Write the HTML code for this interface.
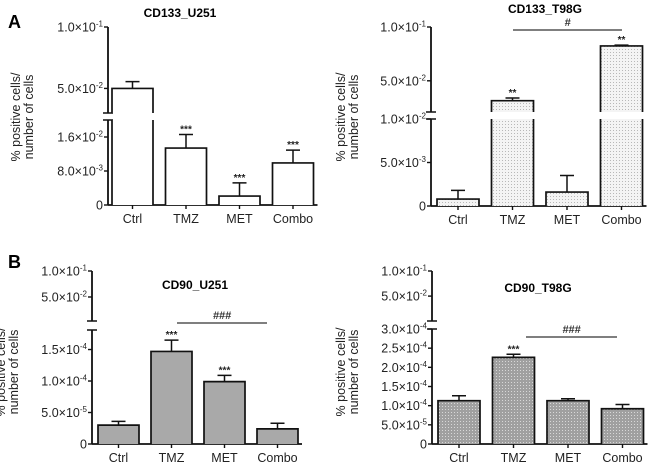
<!DOCTYPE html>
<html><head><meta charset="utf-8">
<style>
html,body{margin:0;padding:0;background:#fff;}
svg{display:block;font-family:"Liberation Sans",Arial,sans-serif;}
</style></head>
<body>
<svg id="fig" width="650" height="464" viewBox="0 0 650 464" xmlns="http://www.w3.org/2000/svg">
<defs>
<pattern id="dotsLight" width="3" height="3" patternUnits="userSpaceOnUse"><rect width="3" height="3" fill="#f4f4f4"/><rect x="1" y="1" width="1" height="1" fill="#b8b8b8"/></pattern>
<pattern id="dotsDark" width="3" height="3" patternUnits="userSpaceOnUse"><rect width="3" height="3" fill="#a0a0a0"/><rect x="1" y="1" width="1" height="1" fill="#d8d8d8"/></pattern>
</defs>
<text x="8" y="28" font-size="18" font-weight="bold">A</text>
<text x="8" y="268" font-size="18" font-weight="bold">B</text>
</svg>
<script>
// shared categories
const categories = ["Ctrl", "TMZ", "MET", "Combo"];
// CD133_U251
const a1Values = [0.050, 0.0134, 0.0021, 0.0099];
const a1Errors = [0.0055, 0.0032, 0.0031, 0.0030];
const a1Stars = ["", "***", "***", "***"];
const a1TickValues = [0, 0.008, 0.016, 0.05, 0.1];
const a1TickLabels = ["0", "8.0x10^-3", "1.6x10^-2", "5.0x10^-2", "1.0x10^-1"];
// CD133_T98G
const a2Values = [0.0008, 0.0315, 0.0016, 0.0824];
const a2Errors = [0.0010, 0.0025, 0.0019, 0.0008];
const a2Stars = ["", "**", "", "**"];
const a2TickValues = [0, 0.005, 0.01, 0.05, 0.1];
const a2TickLabels = ["0", "5.0x10^-3", "1.0x10^-2", "5.0x10^-2", "1.0x10^-1"];
// CD90_U251
const b1Values = [3.0e-5, 1.47e-4, 0.99e-4, 2.4e-5];
const b1Errors = [0.6e-5, 1.8e-5, 1.0e-5, 0.9e-5];
const b1Stars = ["", "***", "***", ""];
const b1TickValues = [0, 5e-5, 1e-4, 1.5e-4, 0.05, 0.1];
const b1TickLabels = ["0", "5.0x10^-5", "1.0x10^-4", "1.5x10^-4", "5.0x10^-2", "1.0x10^-1"];
// CD90_T98G
const b2Values = [1.13e-4, 2.26e-4, 1.13e-4, 0.92e-4];
const b2Errors = [1.3e-5, 0.8e-5, 0.5e-5, 1.1e-5];
const b2Stars = ["", "***", "", ""];
const b2TickValues = [0, 5e-5, 1e-4, 1.5e-4, 2e-4, 2.5e-4, 3e-4, 0.05, 0.1];
const b2TickLabels = ["0", "5.0x10^-5", "1.0x10^-4", "1.5x10^-4", "2.0x10^-4", "2.5x10^-4", "3.0x10^-4", "5.0x10^-2", "1.0x10^-1"];

const NS = "http://www.w3.org/2000/svg";
const svg = document.getElementById("fig");
function mk(tag, attrs, parent) {
  const e = document.createElementNS(NS, tag);
  for (const k in attrs) e.setAttribute(k, attrs[k]);
  (parent || svg).appendChild(e);
  return e;
}
function makeScale(segs) {
  return function (v) {
    for (const s of segs) {
      if (v >= s.v0 && v <= s.v1 + 1e-12) return s.y0 + (v - s.v0) / (s.v1 - s.v0) * (s.y1 - s.y0);
    }
    const s = segs[segs.length - 1];
    return s.y1;
  };
}
function segOf(segs, v) { for (const s of segs) if (v >= s.v0 && v <= s.v1 + 1e-12) return s; return segs[segs.length - 1]; }

function drawChart(cfg) {
  const g = mk("g", {});
  
  
  const y = makeScale(cfg.segs);
  const ax = cfg.axisX, y0 = cfg.segs[0].y0;
  const t = mk("text", {x: cfg.titleX, y: cfg.titleY, "font-size": 12, "font-weight": "bold", "text-anchor": "middle"}, g);
  t.textContent = cfg.title;
  
  
  const yt = mk("text", {transform: `translate(${cfg.ytX},${cfg.ytY}) rotate(-90)`, "font-size": 12.5, "text-anchor": "middle", fill: "#222"}, g);
  
  
  const s1 = mk("tspan", {x: 0, dy: 0}, yt); s1.textContent = "% positive cells/";
  const s2 = mk("tspan", {x: 0, dy: 13}, yt); s2.textContent = "number of cells";
  for (const s of cfg.segs) {
    const l = mk("line", {x1: ax, x2: ax, y1: s.y0, y2: s.y1, stroke: "#111", "stroke-width": 1.8}, g);
    
    
  }
  for (let i = 0; i < cfg.segs.length - 1; i++) {
    const b1 = mk("line", {x1: ax - 5, x2: ax + 5, y1: cfg.segs[i].y1, y2: cfg.segs[i].y1, stroke: "#111", "stroke-width": 1.5}, g);
    
    
    const b2 = mk("line", {x1: ax - 5, x2: ax + 5, y1: cfg.segs[i + 1].y0, y2: cfg.segs[i + 1].y0, stroke: "#111", "stroke-width": 1.5}, g);
    
    
  }
  cfg.ticks.forEach((v, i) => {
    const ty = y(v);
    const tk = mk("line", {x1: ax - 4, x2: ax, y1: ty, y2: ty, stroke: "#111", "stroke-width": 1.4}, g);
    
    
    const lab = cfg.tickLabels[i];
    const tx = mk("text", {x: ax - 5, y: ty + 4.5, "font-size": 12.5, "text-anchor": "end", fill: "#222"}, g);
    
    
    const parts = lab.split("^");
    const a = mk("tspan", {}, tx); a.textContent = parts[0].replace("x", "\u00d7");
    if (parts[1]) { const b = mk("tspan", {dy: -5, "font-size": 8}, tx); b.textContent = parts[1]; }
  });
  const xe = cfg.barX0 + (categories.length - 1) * cfg.step + cfg.barW + 4;
  const xa = mk("line", {x1: ax, x2: xe, y1: y0, y2: y0, stroke: "#111", "stroke-width": 1.8}, g);
  
  
  categories.forEach((c, i) => {
    const bx = cfg.barX0 + i * cfg.step, cx = bx + cfg.barW / 2;
    const v = cfg.values[i], e = cfg.errors[i];
    const top = y(v);
    const vs = segOf(cfg.segs, v);
    const idx = cfg.segs.indexOf(vs);
    for (let k = 0; k <= idx; k++) {
      const sg = cfg.segs[k];
      const yTop = k === idx ? top : sg.y1;
      const r = mk("rect", {x: bx, y: yTop, width: cfg.barW, height: sg.y0 - yTop, fill: cfg.fill, stroke: "none"}, g);
      
      
      const d = (k === idx ? `M${bx},${sg.y0} L${bx},${yTop} L${bx + cfg.barW},${yTop} L${bx + cfg.barW},${sg.y0}` : `M${bx},${sg.y0} L${bx},${yTop} M${bx + cfg.barW},${yTop} L${bx + cfg.barW},${sg.y0}`);
      const p = mk("path", {d: d, fill: "none", stroke: "#111", "stroke-width": 1.7}, g);
      
      
    }
    const ey = y(v + e);
    const el = mk("path", {d: `M${cx},${top} L${cx},${ey} M${cx - 7},${ey} L${cx + 7},${ey}`, stroke: "#111", "stroke-width": 1.5, fill: "none"}, g);
    
    
    const xt = mk("line", {x1: cx, x2: cx, y1: y0, y2: y0 + 4, stroke: "#111", "stroke-width": 1.4}, g);
    
    
    const xl = mk("text", {x: cx, y: y0 + 18, "font-size": 12.5, "text-anchor": "middle", fill: "#222"}, g);
    xl.textContent = c;
    
    
    if (cfg.stars[i]) {
      const st = mk("text", {x: cx, y: ey - 2, "font-size": 10, "text-anchor": "middle", "font-weight": "bold", fill: "#222"}, g);
      st.textContent = cfg.stars[i];
      
      
    }
  });
  if (cfg.sig) {
    const sl = mk("line", {x1: cfg.sig.x1, x2: cfg.sig.x2, y1: cfg.sig.y, y2: cfg.sig.y, stroke: "#333", "stroke-width": 1.3}, g);
    
    
    const sx = mk("text", {x: (cfg.sig.x1 + cfg.sig.x2) / 2, y: cfg.sig.y - 4, "font-size": 11, "text-anchor": "middle", "font-style": "italic", "font-weight": "bold", fill: "#333"}, g);
    sx.textContent = cfg.sig.label;
    
    
  }
}

drawChart({name: "chart-cd133-u251", title: "CD133_U251", titleX: 180, titleY: 17, ytX: 20, ytY: 117,
  axisX: 108, barX0: 112, step: 53.5, barW: 41, fill: "#fff",
  segs: [{v0: 0, v1: 0.02, y0: 205, y1: 120}, {v0: 0.03, v1: 0.1, y0: 113, y1: 27}],
  values: a1Values, errors: a1Errors, stars: a1Stars, ticks: a1TickValues, tickLabels: a1TickLabels});
drawChart({name: "chart-cd133-t98g", title: "CD133_T98G", titleX: 545, titleY: 13, ytX: 345, ytY: 117,
  axisX: 431, barX0: 437, step: 54.5, barW: 42, fill: "url(#dotsLight)",
  segs: [{v0: 0, v1: 0.01, y0: 206, y1: 119}, {v0: 0.021, v1: 0.1, y0: 112, y1: 27}],
  values: a2Values, errors: a2Errors, stars: a2Stars, ticks: a2TickValues, tickLabels: a2TickLabels,
  sig: {x1: 513, x2: 622, y: 30, label: "#"}});
drawChart({name: "chart-cd90-u251", title: "CD90_U251", titleX: 195, titleY: 289, ytX: 5, ytY: 372,
  axisX: 92, barX0: 98, step: 53, barW: 41, fill: "#a9a9a9",
  segs: [{v0: 0, v1: 1.81e-4, y0: 444, y1: 330}, {v0: 0.0038, v1: 0.1, y0: 321, y1: 271}],
  values: b1Values, errors: b1Errors, stars: b1Stars, ticks: b1TickValues, tickLabels: b1TickLabels,
  sig: {x1: 177, x2: 267, y: 323, label: "###"}});
drawChart({name: "chart-cd90-t98g", title: "CD90_T98G", titleX: 538, titleY: 292, ytX: 345, ytY: 372,
  axisX: 432, barX0: 438, step: 54.5, barW: 42, fill: "url(#dotsDark)",
  segs: [{v0: 0, v1: 3e-4, y0: 444, y1: 329}, {v0: 4e-4, v1: 0.1, y0: 321, y1: 271}],
  values: b2Values, errors: b2Errors, stars: b2Stars, ticks: b2TickValues, tickLabels: b2TickLabels,
  sig: {x1: 526, x2: 617, y: 337, label: "###"}});
</script>
</body></html>
